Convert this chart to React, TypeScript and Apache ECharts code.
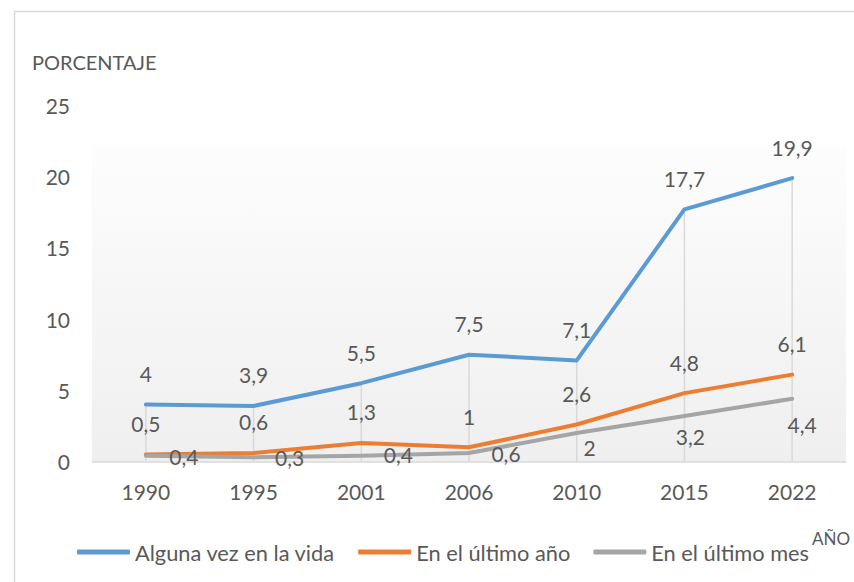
import React, { useEffect, useRef } from "react";
import * as echarts from "echarts";

const years = ["1990", "1995", "2001", "2006", "2010", "2015", "2022"];
const vida = [4, 3.9, 5.5, 7.5, 7.1, 17.7, 19.9];
const anio = [0.5, 0.6, 1.3, 1, 2.6, 4.8, 6.1];
const mes = [0.4, 0.3, 0.4, 0.6, 2, 3.2, 4.4];
const seriesNames = ["Alguna vez en la vida", "En el último año", "En el último mes"];
const yMin = 0;
const yMax = 25;
const yStep = 5;

const FONT = "Lato";
const TXT = "#595959";
const FS = 21;

const fmt = (p: any) => String(p.value).replace(".", ",");

// label offsets for the gray series (as placed in the original)
const mesLabelOffsets = [
  [38, 1],
  [36, 0],
  [37, -1],
  [37, 1],
  [13, 14],
  [6, 21],
  [10, 26],
];

export default function App() {
  const ref = useRef<HTMLDivElement>(null);
  useEffect(() => {
    if (!ref.current) return;
    const chart = echarts.init(ref.current, undefined, { renderer: "svg" });
    const topLabel = {
      show: true,
      position: "inside",
      offset: [0, -31],
      formatter: fmt,
      color: TXT,
      fontFamily: FONT,
      fontSize: FS,
    };
    const lineCommon = {
      type: "line",
      symbol: "circle",
      symbolSize: 2,
      lineStyle: { width: 4, join: "round", cap: "round" },
      z: 3,
    };
    chart.setOption({
      animation: false,
      backgroundColor: "#ffffff",
      textStyle: { fontFamily: FONT },
      grid: {
        left: 92,
        right: 8,
        top: 105.5,
        bottom: 120.5,
        show: true,
        borderWidth: 0,
        backgroundColor: new echarts.graphic.LinearGradient(0, 0, 0, 1, [
          { offset: 0, color: "#ffffff" },
          { offset: 0.11, color: "#ffffff" },
          { offset: 0.112, color: "#fdfdfd" },
          { offset: 1, color: "#efefef" },
        ]),
      },
      legend: {
        data: seriesNames,
        left: 77,
        top: 541,
        padding: 0,
        icon: "roundRect",
        itemWidth: 53,
        itemHeight: 5,
        itemGap: 23,
        textStyle: { color: TXT, fontFamily: FONT, fontSize: 21.8 },
      },
      xAxis: {
        type: "category",
        data: years,
        boundaryGap: true,
        axisLine: { lineStyle: { color: "#d9d9d9", width: 1.5 } },
        axisTick: { show: false },
        axisLabel: { color: TXT, fontFamily: FONT, fontSize: FS, margin: 19 },
        splitLine: { show: false },
      },
      yAxis: {
        type: "value",
        min: yMin,
        max: yMax,
        interval: yStep,
        axisLine: { show: false },
        axisTick: { show: false },
        splitLine: { show: false },
        axisLabel: { color: TXT, fontFamily: FONT, fontSize: FS, margin: 22 },
      },
      graphic: [
        {
          type: "rect",
          left: 12,
          top: 9,
          shape: { width: 900, height: 700 },
          style: { fill: "none", stroke: "#d9d9d9", lineWidth: 1.5 },
          silent: true,
        },
        {
          type: "text",
          left: 32,
          top: 52,
          style: { text: "PORCENTAJE", fill: TXT, font: `20px ${FONT}` },
        },
        {
          type: "text",
          left: 812,
          top: 530,
          style: { text: "AÑO", fill: TXT, font: `17px ${FONT}` },
        },
      ],
      series: [
        {
          name: "drop",
          type: "bar",
          data: vida,
          barWidth: 1.5,
          itemStyle: { color: "#d9d9d9" },
          z: 1,
          silent: true,
        },
        {
          ...lineCommon,
          name: seriesNames[0],
          data: vida,
          color: "#5b9bd5",
          label: topLabel,
        },
        {
          ...lineCommon,
          name: seriesNames[1],
          data: anio,
          color: "#ed7d31",
          label: topLabel,
        },
        {
          ...lineCommon,
          name: seriesNames[2],
          data: mes.map((v, i) => ({
            value: v,
            label: { offset: mesLabelOffsets[i] },
          })),
          color: "#a5a5a5",
          label: {
            show: true,
            position: "inside",
            formatter: fmt,
            color: TXT,
            fontFamily: FONT,
            fontSize: FS,
          },
        },
      ],
    });
    return () => chart.dispose();
  }, []);
  return (
    <div
      ref={ref}
      style={{ position: "fixed", left: 0, top: 0, width: 854, height: 582 }}
    />
  );
}
